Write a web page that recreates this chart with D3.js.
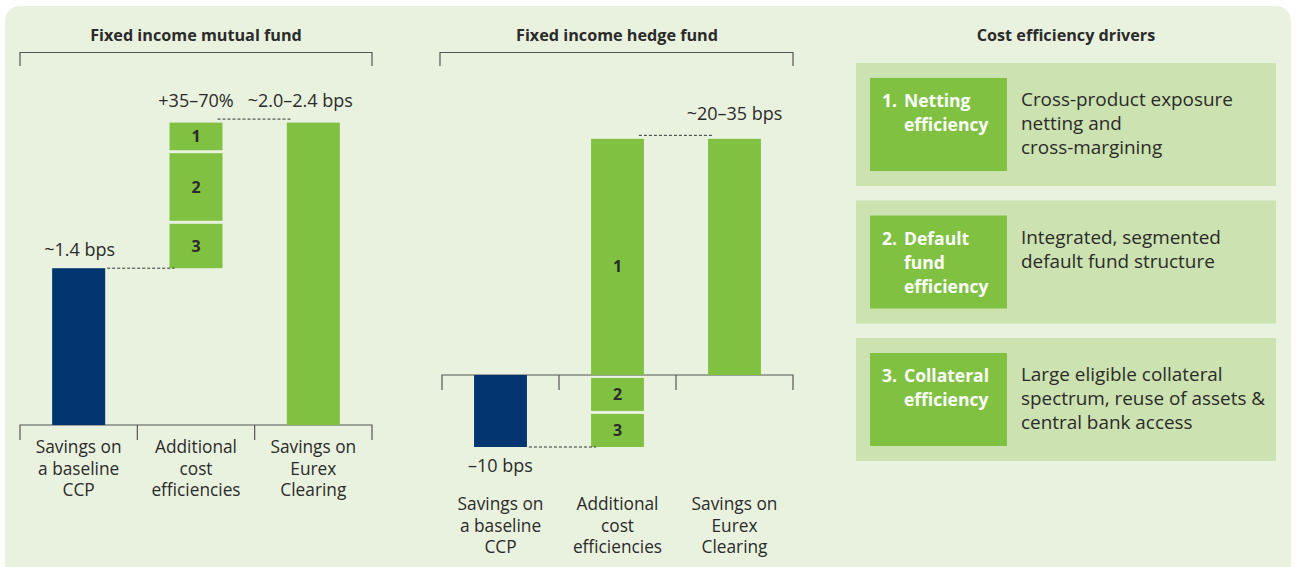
<!DOCTYPE html>
<html><head><meta charset="utf-8">
<script src="https://cdn.jsdelivr.net/npm/d3@7"></script>
<style>
html,body{margin:0;padding:0;background:#fff;}
svg text{font-family:"Open Sans",sans-serif;}
</style></head>
<body>
<svg id="c" width="1296" height="567"></svg>
<script>
// ---- data ----
const categories = [["Savings on","a baseline","CCP"],["Additional","cost","efficiencies"],["Savings on","Eurex","Clearing"]];
const segmentLabels = ["1","2","3"];
// Mutual fund (bps, schematic)
const mfBaseline = 1.4;
const mfSegments = [0.26, 0.63, 0.41];   // segments 1,2,3 (top to bottom)
const mfEurex = 2.7;
const mfLabels = ["~1.4 bps", "+35–70%", "~2.0–2.4 bps"];
// Hedge fund (bps, schematic)
const hfBaseline = -10;
const hfSegments = [33.0, 5.0, 4.8];
const hfEurex = 32.8;
const hfLabels = ["–10 bps", "~20–35 bps"];
const titles = ["Fixed income mutual fund", "Fixed income hedge fund", "Cost efficiency drivers"];
const driverTitles = [["1.","Netting","efficiency"],["2.","Default","fund","efficiency"],["3.","Collateral","efficiency"]];
const driverTexts = [["Cross-product exposure","netting and","cross-margining"],["Integrated, segmented","default fund structure"],["Large eligible collateral","spectrum, reuse of assets &","central bank access"]];

const BLUE = "#033671", GREEN = "#80C142", BG = "#E9F2DE", BOX = "#CCE2B0", TXT = "#2b2b2b", AX = "#555";

const svg = d3.select("#c");
svg.append("rect").attr("x",5).attr("y",6).attr("width",1286).attr("height",600).attr("rx",15).attr("fill",BG);

function title(txt, cx){
  svg.append("text").attr("x",cx).attr("y",41).attr("text-anchor","middle")
    .attr("font-size",16.2).attr("font-weight",700).attr("fill",TXT).text(txt);
}
function bracket(x0,x1){
  svg.append("path").attr("d",`M${x0},66V52.5H${x1}V66`).attr("fill","none").attr("stroke",AX).attr("stroke-width",1.2);
}
function waterfall(opts){
  const {x0,x1,y0,ppu,base,segs,eurex,catY} = opts;
  const x = d3.scaleBand().domain([0,1,2]).range([x0,x1]).paddingInner(0.548).paddingOuter(0.274);
  const y = d3.scaleLinear().domain([0,1]).range([y0,y0-ppu]);
  const bw = x.bandwidth();
  const g = svg.append("g");
  // axis
  const ticks = [x0, x0+x.step(), x0+2*x.step(), x1];
  g.append("path").attr("d",`M${x0},${y0+15}V${y0}H${x1}V${y0+15}`).attr("fill","none").attr("stroke",AX).attr("stroke-width",1.2);
  g.selectAll("line.t").data(ticks.slice(1,3)).join("line").attr("x1",d=>d).attr("x2",d=>d)
    .attr("y1",y0).attr("y2",y0+15).attr("stroke",AX).attr("stroke-width",1.2);
  // baseline bar
  g.append("rect").attr("x",x(0)).attr("width",bw).attr("y",Math.min(y(0),y(base))).attr("height",Math.abs(y(base)-y(0))).attr("fill",BLUE);
  // segments (stack from baseline upward: 3,2,1)
  let cum = base;
  const segData = [];
  for(let i=segs.length-1;i>=0;i--){ segData.push({i, lo:cum, hi:cum+segs[i]}); cum += segs[i]; }
  segData.forEach((s,k)=>{
    const top = y(s.hi) + (k===segData.length-1?0:1.5);
    const bot = y(s.lo) - (k===0?0:1.5);
    g.append("rect").attr("x",x(1)).attr("width",bw).attr("y",top).attr("height",bot-top).attr("fill",GREEN);
    g.append("text").attr("x",x(1)+bw/2).attr("y",(top+bot)/2+ (opts.segOff?opts.segOff[s.i]:0) +6).attr("text-anchor","middle")
      .attr("font-size",16).attr("font-weight",700).attr("fill",TXT).text(segmentLabels[s.i]);
  });
  // eurex
  g.append("rect").attr("x",x(2)).attr("width",bw).attr("y",Math.min(y(0),y(eurex))).attr("height",Math.abs(y(eurex)-y(0))).attr("fill",GREEN);
  // connectors
  const dash = (xa,xb,yy)=>g.append("line").attr("x1",xa).attr("x2",xb).attr("y1",yy).attr("y2",yy)
     .attr("stroke","#333").attr("stroke-width",1).attr("stroke-dasharray","3,2");
  dash(x(0)+bw+2, x(1)+5, y(base)+opts.dy1);
  dash(x(1)+bw-5, x(2)+5, y(eurex)-3.5);
  // categories
  categories.forEach((lines,ci)=>{
    const t = g.append("text").attr("text-anchor","middle").attr("font-size",17.3).attr("fill",TXT);
    lines.forEach((l,li)=>t.append("tspan").attr("x",x(ci)+bw/2).attr("y",catY+li*21.5).text(l));
  });
  return {x,y,bw};
}

const lt = (txt,cx,yy)=>svg.append("text").attr("x",cx).attr("y",yy).attr("text-anchor","middle").attr("font-size",18).attr("fill",TXT).text(txt);

// Left chart
title(titles[0], 196);
bracket(20,372);
const L = waterfall({x0:20,x1:372,y0:425,ppu:112,base:mfBaseline,segs:mfSegments,eurex:mfEurex,catY:453,dy1:0});
lt(mfLabels[0], L.x(0)+L.bw/2+1, L.y(mfBaseline)-12);
lt(mfLabels[1], L.x(1)+L.bw/2, 107);
lt(mfLabels[2], L.x(2)+L.bw/2-13, 107);

// Middle chart
title(titles[1], 617);
bracket(440,793);
const H = waterfall({x0:442,x1:793,y0:375,ppu:7.2,base:hfBaseline,segs:hfSegments,eurex:hfEurex,catY:510,dy1:0,segOff:[9,0,0]});
lt(hfLabels[0], H.x(0)+H.bw/2, 472);
lt(hfLabels[1], H.x(2)+H.bw/2, 120);

// Right panel
title(titles[2], 1066);
const boxY = d3.scaleLinear().domain([0,1]).range([63,200.5]);
driverTitles.forEach((dt,i)=>{
  const by = boxY(i);
  svg.append("rect").attr("x",856).attr("y",by).attr("width",420).attr("height",123).attr("fill",BOX);
  svg.append("rect").attr("x",870).attr("y",by+15).attr("width",137).attr("height",93).attr("fill",GREEN);
  const t = svg.append("text").attr("font-size",17.5).attr("font-weight",700).attr("fill","#fff");
  t.append("tspan").attr("x",882).attr("y",by+44).text(dt[0]);
  dt.slice(1).forEach((l,li)=>t.append("tspan").attr("x",904).attr("y",by+44+li*24).text(l));
  const d = svg.append("text").attr("font-size",18.9).attr("fill",TXT);
  driverTexts[i].forEach((l,li)=>d.append("tspan").attr("x",1021).attr("y",by+43+li*24).text(l));
});
</script>
</body></html>
